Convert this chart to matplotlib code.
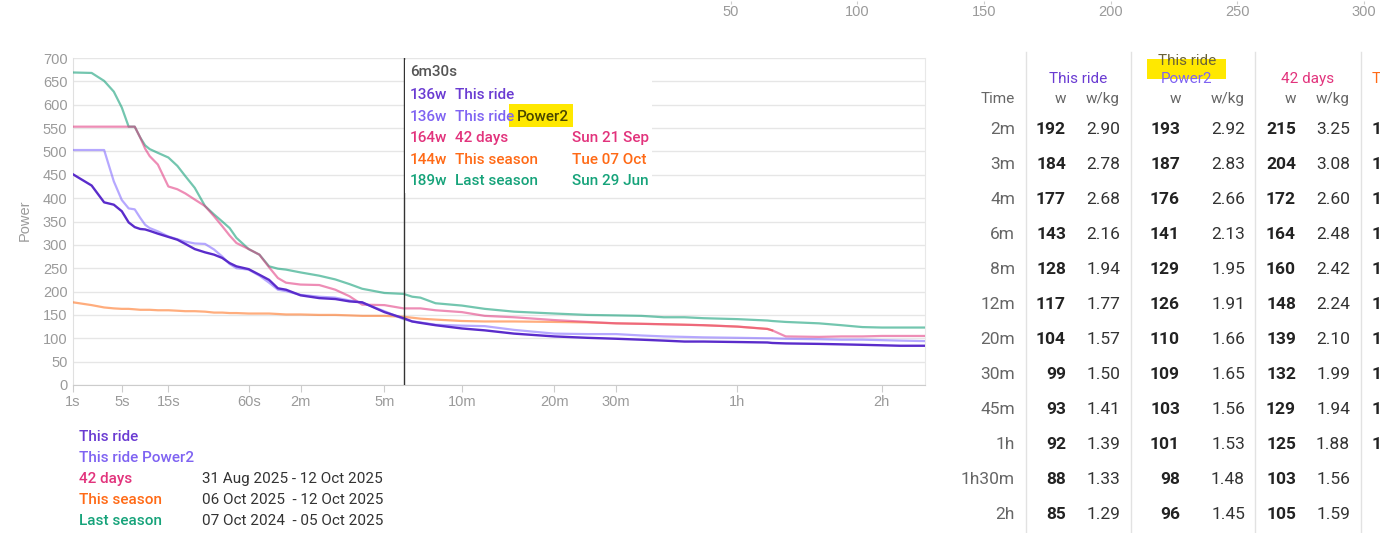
import numpy as np
import matplotlib
matplotlib.use("Agg")
import matplotlib.pyplot as plt
from matplotlib.patches import Rectangle
from matplotlib.lines import Line2D

plt.rcParams['font.family'] = ['Roboto', 'DejaVu Sans']

W, H = 1380, 533

# power curve, durations in seconds
secs = [1, 2, 3, 4, 5, 6, 7, 8, 9, 10,
        12, 15, 18, 21, 25, 30, 35, 40, 45, 50,
        60, 70, 80, 90, 100, 120, 150, 180, 210, 240,
        300, 360, 390, 420, 480, 600, 720, 900, 1200, 1500,
        1800, 2100, 2400, 2700, 3000, 3600, 4200, 4300, 4600, 5400,
        6000, 6600, 7200, 7800, 8670]
this_ride = [451, 427, 391, 386, 372, 348, 338, 334, 333, 330,
             324, 317, 311, 302, 291, 284, 279, 272, 261, 254,
             248, 236, 225, 207, 204, 192, 186, 184, 179, 177,
             156, 143, 136, 133, 128, 121, 117, 110, 104, 101,
             99, 97, 95, 93, 93, 92, 91, 90, 89, 88,
             87, 86, 85, 84, 84]
power2 = [503, 503, 503, 436, 396, 378, 376, 358, 343, 336,
          329, 318, 312, 307, 303, 302, 290, 275, 259, 250,
          247, 234, 219, 204, 201, 193, 189, 187, 181, 176,
          158, 141, 136, 134, 129, 127, 126, 118, 110, 109,
          109, 106, 104, 103, 102, 101, 100, 100, 99, 98,
          97, 97, 96, 95, 94]
days42 = [553, 553, 553, 553, 553, 553, 553, 530, 506, 490,
          472, 425, 419, 410, 397, 383, 361, 340, 320, 304,
          291, 279, 252, 229, 219, 215, 214, 204, 190, 172,
          171, 164, 164, 164, 160, 156, 148, 145, 139, 135,
          132, 131, 130, 129, 128, 125, 120, 117, 104, 103,
          104, 104, 105, 105, 105]
this_season = [177, 171, 166, 164, 163, 163, 162, 161, 161, 161,
               160, 160, 159, 158, 158, 157, 155, 155, 154, 154,
               153, 153, 153, 152, 151, 151, 150, 150, 149, 148,
               148, 146, 144, 142, 140, 137, 136, 136, 135, 134,
               132, 131, 130, 129, 128, 125, 120, 117, np.nan, np.nan,
               np.nan, np.nan, np.nan, np.nan, np.nan]
last_season = [669, 668, 651, 628, 594, 553, 553, 530, 513, 505,
               497, 487, 469, 447, 422, 383, 365, 350, 336, 315,
               291, 279, 254, 249, 247, 241, 234, 226, 216, 206,
               197, 195, 189, 187, 175, 170, 163, 157, 153, 150,
               149, 148, 145, 145, 143, 141, 138, 137, 135, 132,
               128, 124, 123, 123, 123]

tick_secs = [1, 5, 15, 60, 120, 300, 600, 1200, 1800, 3600, 7200]
tick_labels = ['1s', '5s', '15s', '60s', '2m', '5m', '10m', '20m', '30m', '1h', '2h']

names = ['This ride', 'This ride Power2', '42 days', 'This season', 'Last season']
text_colors = ['#6a3bd2', '#7f63f2', '#e2337c', '#ff6a16', '#16a37a']
date_ranges = ['', '', '31 Aug 2025 - 12 Oct 2025', '06 Oct 2025  - 12 Oct 2025',
               '07 Oct 2024  - 05 Oct 2025']

# tooltip
cursor_label = '6m30s'
cursor_watts = [136, 136, 164, 144, 189]
cursor_dates = ['', '', 'Sun 21 Sep', 'Tue 07 Oct', 'Sun 29 Jun']

# table on the right
table_times = ['2m', '3m', '4m', '6m', '8m', '12m', '20m', '30m', '45m', '1h', '1h30m', '2h']
ride_w = [192, 184, 177, 143, 128, 117, 104, 99, 93, 92, 88, 85]
ride_wkg = ['2.90', '2.78', '2.68', '2.16', '1.94', '1.77', '1.57', '1.50', '1.41', '1.39', '1.33', '1.29']
p2_w = [193, 187, 176, 141, 129, 126, 110, 109, 103, 101, 98, 96]
p2_wkg = ['2.92', '2.83', '2.66', '2.13', '1.95', '1.91', '1.66', '1.65', '1.56', '1.53', '1.48', '1.45']
d42_w = [215, 204, 172, 164, 160, 148, 139, 132, 129, 125, 103, 105]
d42_wkg = ['3.25', '3.08', '2.60', '2.48', '2.42', '2.24', '2.10', '1.99', '1.94', '1.88', '1.56', '1.59']
season_w = [151, 150, 148, 146, 139, 134, 134, 132, 129, 125, None, None]

# other chart's axis peeking in at the top
top_ticks = [50, 100, 150, 200, 250, 300]


def fx(px):
    return px / W


def fy(py):
    return 1 - py / H


fig = plt.figure(figsize=(W / 100, H / 100), dpi=100)
renderer = fig.canvas.get_renderer()
ax = fig.add_axes([fx(73), fy(385), (925 - 73) / W, (385 - 58) / H])

fwd = lambda t: np.power(np.maximum(t, 1e-9), 0.25)
inv = lambda u: np.power(u, 4)
ax.set_xscale('function', functions=(fwd, inv))

line_colors = ['#5a2ccb', '#7b61ff', '#e0307a', '#ff6a13', '#16a07a']
series = [this_ride, power2, days42, this_season, last_season]
styles = [(1.0, 1.7), (0.55, 1.6), (0.55, 1.6), (0.55, 1.6), (0.6, 1.6)]
for i in [4, 3, 2, 1, 0]:
    a, lw = styles[i]
    ax.plot(secs, series[i], color=line_colors[i], alpha=a, lw=lw, zorder=3 + (4 - i) * 0.1)

ax.set_xlim(1, 8670)
ax.set_ylim(0, 700)
ax.set_yticks(range(0, 701, 50))
ax.set_xticks(tick_secs)
ax.set_xticklabels(tick_labels)
ax.minorticks_off()
ax.grid(axis='y', color='#e6e6e6', lw=1)
ax.set_axisbelow(True)
ax.spines['top'].set_visible(False)
ax.spines['left'].set_color('#e0e0e0')
ax.spines['right'].set_color('#e8e8e8')
ax.spines['bottom'].set_color('#cccccc')
ax.tick_params(axis='y', length=0, pad=4, labelsize=10.5, labelcolor='#9a9a9a')
ax.tick_params(axis='x', length=5, color='#cccccc', pad=2, labelsize=10.5, labelcolor='#9a9a9a')
for lab in ax.get_xticklabels() + ax.get_yticklabels():
    lab.set_family(['Liberation Sans', 'DejaVu Sans'])
ax.axvline(362, color='#333333', lw=1, zorder=6)

fig.text(fx(25), fy(220), 'Power', rotation=90, color='#9a9a9a', fontsize=10.5,
         ha='center', va='center', family=['Liberation Sans', 'DejaVu Sans'])

# tooltip box
fig.add_artist(Rectangle((fx(405), fy(193)), (652 - 405) / W, (193 - 60) / H,
                         transform=fig.transFigure, facecolor='white', edgecolor='none', zorder=3))
fig.text(fx(410), fy(72), cursor_label, color='#555555', fontsize=11, weight='medium',
         va='center', zorder=4)
for i in range(5):
    y = fy(95 + i * 21.5)
    c = text_colors[i]
    fig.text(fx(410), y, f'{cursor_watts[i]}w', color=c, fontsize=11, weight='medium', va='center', zorder=4)
    if i == 1:
        t1 = fig.text(fx(455), y, 'This ride', color=c, fontsize=11, weight='medium', va='center', zorder=4)
        x_end = t1.get_window_extent(renderer).x1
        t2 = fig.text((x_end + 3) / W, y, 'Power2', color='#4a4600', fontsize=11, weight='medium',
                      va='center', zorder=4)
        bb = t2.get_window_extent(renderer)
        fig.add_artist(Rectangle(((x_end - 5) / W, fy(127)), (bb.x1 + 9 - x_end) / W, (127 - 104) / H,
                                 transform=fig.transFigure, facecolor='#ffe800', edgecolor='none',
                                 zorder=3.5))
    else:
        fig.text(fx(455), y, names[i], color=c, fontsize=11, weight='medium', va='center', zorder=4)
    if cursor_dates[i]:
        fig.text(fx(572), y, cursor_dates[i], color=c, fontsize=11, weight='medium', va='center', zorder=4)

# legend under the chart
for i in range(5):
    y = fy(437 + i * 21)
    fig.text(fx(79), y, names[i], color=text_colors[i], fontsize=11, weight='medium', va='center')
    if date_ranges[i]:
        fig.text(fx(202), y, date_ranges[i], color='#333333', fontsize=11, va='center')

# top axis fragment
ax_top = fig.add_axes([fx(604), fy(1), (1364 - 604) / W, 0.5 / H])
ax_top.set_xlim(0, 300)
ax_top.set_xticks(top_ticks)
ax_top.set_yticks([])
for s in ax_top.spines.values():
    s.set_visible(False)
ax_top.patch.set_alpha(0)
ax_top.tick_params(axis='x', length=2, color='#cccccc', pad=1, labelsize=10.5, labelcolor='#9a9a9a')
for lab in ax_top.get_xticklabels():
    lab.set_family(['Liberation Sans Narrow', 'Liberation Sans', 'DejaVu Sans'])
fig.text(fx(621), fy(3), '0.00', color='#9a9a9a', fontsize=10.5, va='bottom',
         family=['Liberation Sans', 'DejaVu Sans'])

# table
for xs in [1026, 1131, 1255, 1361]:
    fig.add_artist(Line2D([fx(xs), fx(xs)], [fy(52), 0], transform=fig.transFigure,
                          color='#e2e2e2', lw=1))
fig.add_artist(Rectangle((fx(1147), fy(79)), (1226 - 1147) / W, (79 - 59) / H,
                         transform=fig.transFigure, facecolor='#ffe800', edgecolor='none', zorder=1))
hdr = dict(fontsize=11, va='center', ha='center')
fig.text(fx(1078), fy(79), 'This ride', color=text_colors[0], **hdr)
fig.text(fx(1187), fy(61), 'This ride', color='#6a6238', zorder=2, **hdr)
fig.text(fx(1187), fy(79), 'Power2', color=text_colors[1], zorder=2, **hdr)
fig.text(fx(1308), fy(79), '42 days', color=text_colors[2], **hdr)
fig.text(fx(1372), fy(79), 'This season', color=text_colors[3], fontsize=11, va='center', ha='left')

sub = dict(fontsize=11, va='center', color='#666666')
fig.text(fx(1015), fy(99), 'Time', ha='right', **sub)
for wx, kx in [(1060, 1120), (1175, 1245), (1290, 1350)]:
    fig.text(fx(wx), fy(99), 'w', ha='center', **sub)
    fig.text(fx(kx), fy(99), 'w/kg', ha='right', **sub)

cols = [(ride_w, ride_wkg, 1066, 1120), (p2_w, p2_wkg, 1180, 1245), (d42_w, d42_wkg, 1296, 1350)]
for r, tm in enumerate(table_times):
    y = fy(129.5 + r * 35)
    fig.text(fx(1015), y, tm, ha='right', va='center', fontsize=12.5, color='#666666')
    for wv, kv, wx, kx in cols:
        fig.text(fx(wx), y, str(wv[r]), ha='right', va='center', fontsize=12.5,
                 weight='bold', color='#222222')
        fig.text(fx(kx), y, kv[r], ha='right', va='center', fontsize=12.5, color='#333333')
    if season_w[r] is not None:
        fig.text(fx(1372), y, str(season_w[r]), ha='left', va='center', fontsize=12.5,
                 weight='bold', color='#222222')

fig.savefig('out.png', dpi=100)
